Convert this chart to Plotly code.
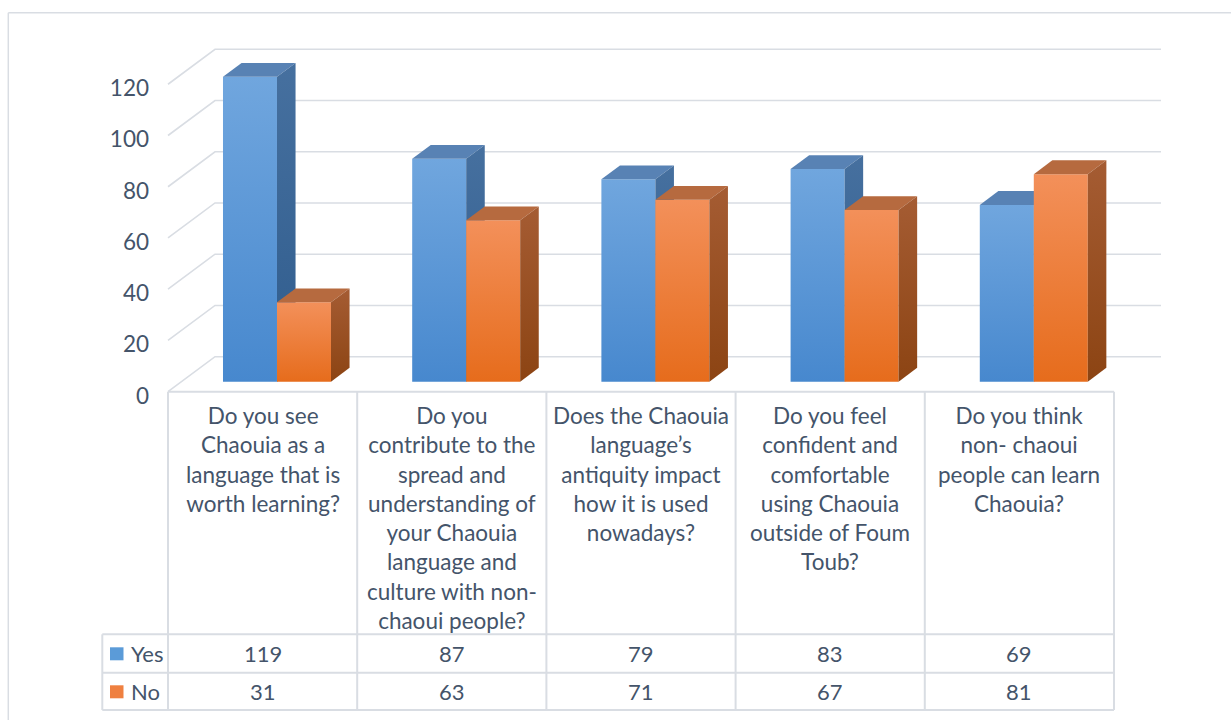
import plotly.graph_objects as go

# ---------------- data ----------------
categories = [
    "Do you see<br>Chaouia as a<br>language that is<br>worth learning?",
    "Do you<br>contribute to the<br>spread and<br>understanding of<br>your Chaouia<br>language and<br>culture with non-<br>chaoui people?",
    "Does the Chaouia<br>language\u2019s<br>antiquity impact<br>how it is used<br>nowadays?",
    "Do you feel<br>confident and<br>comfortable<br>using Chaouia<br>outside of Foum<br>Toub?",
    "Do you think<br>non- chaoui<br>people can learn<br>Chaouia?",
]
series_names = ["Yes", "No"]
yes_values = [119, 87, 79, 83, 69]
no_values = [31, 63, 71, 67, 81]
tick_values = [0, 20, 40, 60, 80, 100, 120]

# ---------------- geometry / style ----------------
W, H = 1231, 720
FX0, CATW = 168.0, 189.2      # pixel of front-left edge, pixels per category
Y0, UNIT = 391.7, 2.562       # pixel of value 0 (front plane), pixels per unit


def px_x(p):
    return (p - FX0) / CATW - 0.5


def px_y(p):
    return (Y0 - p) / UNIT


DEPTH_X = 47 / CATW
DEPTH_Y = 35 / UNIT
D1, D2 = 0.286, 0.681
BAR_W = 0.2854
OFFS = 0.005

TEXT = "#44546a"
GRID = "#d9dde3"
FONT = "Lato"

styles = {
    "Yes": dict(front=("#4788ce", "#70a6de"), top="#5882b4", side=("#2f5c8d", "#46709f")),
    "No": dict(front=("#e66c1c", "#f3905a"), top="#b66a3f", side=("#8c4413", "#a55c33")),
}


def proj(x, y, d):
    return x + d * DEPTH_X, y + d * DEPTH_Y


def poly(pts):
    xs = [p[0] for p in pts] + [pts[0][0]]
    ys = [p[1] for p in pts] + [pts[0][1]]
    return xs, ys


fig = go.Figure()

# back wall + left wall gridlines
gx, gy = [], []
for t in tick_values:
    a = (-0.5, t)
    b = proj(-0.5, t, 1)
    c = proj(len(categories) - 0.5, t, 1)
    gx += [a[0], b[0], c[0], None]
    gy += [a[1], b[1], c[1], None]
fig.add_trace(go.Scatter(x=gx, y=gy, mode="lines", line=dict(color=GRID, width=1.6),
                         hoverinfo="skip", showlegend=False))

# 3D bars
for i in range(len(categories)):
    for s, vals in zip(series_names, [yes_values, no_values]):
        v = vals[i]
        st = styles[s]
        if s == "Yes":
            x0, x1 = i - BAR_W + OFFS, i + OFFS
        else:
            x0, x1 = i + OFFS, i + BAR_W + OFFS
        front = [proj(x0, 0, D1), proj(x1, 0, D1), proj(x1, v, D1), proj(x0, v, D1)]
        top = [proj(x0, v, D1), proj(x1, v, D1), proj(x1, v, D2), proj(x0, v, D2)]
        side = [proj(x1, 0, D1), proj(x1, 0, D2), proj(x1, v, D2), proj(x1, v, D1)]
        fx, fy = poly(front)
        fig.add_trace(go.Scatter(x=fx, y=fy, mode="lines", fill="toself", line=dict(width=0),
                                 fillgradient=dict(type="vertical",
                                                   colorscale=[[0, st["front"][0]], [1, st["front"][1]]]),
                                 hoverinfo="skip", showlegend=False))
        tx, ty = poly(top)
        fig.add_trace(go.Scatter(x=tx, y=ty, mode="lines", fill="toself", line=dict(width=0),
                                 fillcolor=st["top"], hoverinfo="skip", showlegend=False))
        sx, sy = poly(side)
        fig.add_trace(go.Scatter(x=sx, y=sy, mode="lines", fill="toself", line=dict(width=0),
                                 fillgradient=dict(type="vertical",
                                                   colorscale=[[0, st["side"][0]], [1, st["side"][1]]]),
                                 hoverinfo="skip", showlegend=False))

# ---------------- data table ----------------
shapes = []
n = len(categories)
row_top, row_mid, row_bot = px_y(634.3), px_y(672.7), px_y(710.0)
left_col = px_x(102.3)
tl = dict(color=GRID, width=2)
shapes.append(dict(type="line", x0=-0.5, x1=n - 0.5, y0=0, y1=0, line=tl, layer="below"))
for yy in [row_top, row_mid, row_bot]:
    shapes.append(dict(type="line", x0=left_col, x1=n - 0.5, y0=yy, y1=yy, line=tl, layer="below"))
for k in range(n + 1):
    shapes.append(dict(type="line", x0=k - 0.5, x1=k - 0.5, y0=0, y1=row_bot, line=tl, layer="below"))
shapes.append(dict(type="line", x0=left_col, x1=left_col, y0=row_top, y1=row_bot, line=tl, layer="below"))

# outer chart border (top & left visible)
bl = dict(color=GRID, width=1.5)
shapes.append(dict(type="line", xref="paper", yref="paper", x0=8.3 / W, x1=1.0,
                   y0=1 - 12.7 / H, y1=1 - 12.7 / H, line=bl))
shapes.append(dict(type="line", xref="paper", yref="paper", x0=8.3 / W, x1=8.3 / W,
                   y0=0, y1=1 - 12.7 / H, line=bl))

# legend keys
key_colors = {"Yes": "#5b9bd8", "No": "#ef8040"}
row_centers = {"Yes": px_y(653.8), "No": px_y(691.8)}
annotations = []
for s, vals in zip(series_names, [yes_values, no_values]):
    yc = row_centers[s]
    shapes.append(dict(type="rect", x0=px_x(110), x1=px_x(123.5), y0=yc - 6.5 / UNIT, y1=yc + 6.5 / UNIT,
                       fillcolor=key_colors[s], line=dict(width=0)))
    annotations.append(dict(x=px_x(129), y=yc, text=s, showarrow=False, xanchor="left", yanchor="middle",
                            font=dict(family=FONT, size=22, color=TEXT)))
    for i, v in enumerate(vals):
        annotations.append(dict(x=i, y=yc, text=str(v), showarrow=False, xanchor="center", yanchor="middle",
                                font=dict(family=FONT, size=22, color=TEXT)))

for i, c in enumerate(categories):
    annotations.append(dict(x=i, y=px_y(400), text=c, showarrow=False, xanchor="center", yanchor="top",
                            align="center", font=dict(family=FONT, size=22.5, color=TEXT)))

fig.update_layout(
    width=W, height=H, autosize=False,
    margin=dict(l=0, r=0, t=0, b=0, pad=0),
    paper_bgcolor="white", plot_bgcolor="white",
    showlegend=False,
    xaxis=dict(range=[px_x(0), px_x(W)], visible=False, fixedrange=True),
    yaxis=dict(range=[px_y(H), px_y(0)], anchor="free", position=FX0 / W,
               showgrid=False, zeroline=False, showline=False, ticks="",
               tickvals=tick_values, ticklabelstandoff=19, ticklabelshift=4,
               tickfont=dict(family=FONT, size=22.5, color=TEXT), fixedrange=True),
    shapes=shapes,
    annotations=annotations,
)

fig.write_html("out.html")
